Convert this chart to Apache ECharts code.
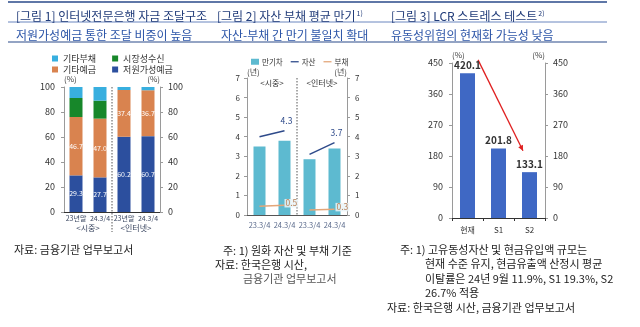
<!DOCTYPE html>
<html><head><meta charset="utf-8">
<script src="https://cdn.jsdelivr.net/npm/echarts@6/dist/echarts.min.js"></script>
<style>html,body{margin:0;padding:0;background:#fff}#c{width:640px;height:327px}</style>
</head><body><div id="c"></div>
<script>
// ---- Data ----
const cat1 = ['23년말', '24.3/4', '23년말', '24.3/4'];
const group1 = ['<시중>', '<인터넷>'];
const lowCost = [29.3, 27.7, 60.2, 60.7];
const otherDeposit = [46.7, 47.0, 37.4, 36.7];
const marketFund = [15.2, 14.4, 0, 0];
const otherLiab = [8.8, 10.9, 2.4, 2.6];
const ticks1 = [0, 20, 40, 60, 80, 100];

const cat2 = ['23.3/4', '24.3/4', '23.3/4', '24.3/4'];
const group2 = ['<시중>', '<인터넷>'];
const gap = [3.5, 3.8, 2.85, 3.4];
const assetBank = [4.0, 4.3, '-', '-'];
const assetNet = ['-', '-', 3.1, 3.7];
const liabBank = [0.45, 0.5, '-', '-'];
const liabNet = ['-', '-', 0.25, 0.3];
const ticks2 = [0, 1, 2, 3, 4, 5, 6, 7];

const cat3 = ['현재', 'S1', 'S2'];
const lcr = [420.1, 201.8, 133.1];
const ticks3 = [0, 90, 180, 270, 360, 450];
const arrowFrom = [0.34, 459];
const arrowTo = [1.79, 195];

const FONT = '"Noto Sans CJK KR", "Noto Sans", sans-serif';
const chart = echarts.init(document.getElementById('c'), null, {renderer: 'canvas'});

function yAx(grid, min, max, interval, pos, name, margin, fs, nameAlign, nameGap) {
  return {
    type: 'value', gridIndex: grid, position: pos, min: min, max: max, interval: interval,
    name: name, nameLocation: 'end', nameGap: nameGap,
    nameTextStyle: {fontSize: 8, color: '#444', fontFamily: FONT, align: nameAlign},
    axisLine: {show: true, lineStyle: {color: '#9a9a9a'}},
    axisTick: {show: true, length: 3, lineStyle: {color: '#9a9a9a'}},
    axisLabel: {fontSize: fs, color: '#333', margin: margin, fontFamily: FONT},
    splitLine: {show: false}
  };
}

function lastLabel(color, pos, offset, bg) {
  return {
    show: true, position: pos, offset: offset, fontSize: 8.5, color: color, fontFamily: FONT,
    backgroundColor: bg || 'transparent', padding: bg ? [0, 1] : 0,
    formatter: p => (p.dataIndex === 1 || p.dataIndex === 3) ? String(p.value) : ''
  };
}
const titleRich = {
  m: {fontSize: 12, fontWeight: 'normal', color: '#1f3a78', fontFamily: FONT},
  s: {fontSize: 7, fontWeight: 'normal', color: '#1f3a78', fontFamily: FONT, verticalAlign: 'top', padding: [0, 0, 6, 1]}
};

const option = {
  backgroundColor: '#fff',
  animation: false,
  textStyle: {fontFamily: FONT},
  title: [
    {text: '[그림 1] 인터넷전문은행 자금 조달구조', left: 11, top: 5, textStyle: {fontSize: 12, fontWeight: 'normal', color: '#1f3a78', fontFamily: FONT}},
    {text: '{m|[그림 2] 자산 부채 평균 만기}{s|1)}', left: 212, top: 5, textStyle: {fontWeight: 'normal', rich: titleRich}},
    {text: '{m|[그림 3] LCR 스트레스 테스트}{s|2)}', left: 386, top: 5, textStyle: {fontWeight: 'normal', rich: titleRich}},
    {text: '저원가성예금 통한 조달 비중이 높음', left: 11, top: 24, textStyle: {fontSize: 12, fontWeight: 'normal', color: '#2c55a8', fontFamily: FONT}},
    {text: '자산-부채 간 만기 불일치 확대', left: 216, top: 24, textStyle: {fontSize: 12, fontWeight: 'normal', color: '#2c55a8', fontFamily: FONT}},
    {text: '유동성위험의 현재화 가능성 낮음', left: 386, top: 24, textStyle: {fontSize: 12, fontWeight: 'normal', color: '#2c55a8', fontFamily: FONT}}
  ],
  legend: [
    {data: ['기타부채', '시장성수신'], left: 47, top: 49, icon: 'rect', itemWidth: 6, itemHeight: 6, itemGap: 16, textStyle: {fontSize: 9, color: '#333', fontFamily: FONT}},
    {data: ['기타예금', '저원가성예금'], left: 47, top: 60, icon: 'rect', itemWidth: 6, itemHeight: 6, itemGap: 16, textStyle: {fontSize: 9, color: '#333', fontFamily: FONT}},
    {data: [{name: '만기차', icon: 'rect'}, {name: '자산', icon: 'path://M0,0 H10 V1.6 H0 Z'}, {name: '부채', icon: 'path://M0,0 H10 V1.6 H0 Z'}],
     left: 246, top: 53, itemWidth: 8, itemHeight: 6, itemGap: 8, textStyle: {fontSize: 7.5, color: '#333', fontFamily: FONT, padding: [0, 0, 0, -2]}}
  ],
  grid: [
    {left: 64, top: 87, width: 96, height: 125},
    {left: 247, top: 78, width: 100, height: 137},
    {left: 452, top: 63, width: 93, height: 155}
  ],
  xAxis: [
    {type: 'category', gridIndex: 0, data: cat1, axisLine: {lineStyle: {color: '#333'}}, axisTick: {show: false},
     axisLabel: {fontSize: 7, color: '#3a4660', margin: 3, interval: 0, fontFamily: FONT}},
    {type: 'category', gridIndex: 1, data: cat2, axisLine: {lineStyle: {color: '#555'}}, axisTick: {show: false},
     axisLabel: {fontSize: 7.5, color: '#5b6b8c', margin: 6, interval: 0, fontFamily: FONT}},
    {type: 'category', gridIndex: 2, data: cat3, axisLine: {lineStyle: {color: '#333'}}, axisTick: {show: true, length: 3, lineStyle: {color: '#333'}},
     axisLabel: {fontSize: 8, color: '#333', margin: 8, interval: 0, fontFamily: FONT}}
  ],
  yAxis: [
    yAx(0, 0, 100, 20, 'left', '(%)', 9, 9, 'left', 4),
    yAx(0, 0, 100, 20, 'right', '(%)', 8, 9, 'right', 4),
    yAx(1, 0, 7, 1, 'left', '(년)', 7, 8, 'left', 2),
    yAx(1, 0, 7, 1, 'right', '(년)', 8, 8, 'right', 2),
    yAx(2, 0, 450, 90, 'left', '(%)', 9, 9, 'left', 4),
    yAx(2, 0, 450, 90, 'right', '(%)', 8, 9, 'right', 4)
  ],
  series: [
    {name: '저원가성예금', type: 'bar', stack: 's1', xAxisIndex: 0, yAxisIndex: 0, data: lowCost, barWidth: 13,
     itemStyle: {color: '#2c4f9e'}, label: {show: true, position: 'inside', fontSize: 7, color: '#fff', fontFamily: FONT}},
    {name: '기타예금', type: 'bar', stack: 's1', xAxisIndex: 0, yAxisIndex: 0, data: otherDeposit, barWidth: 13,
     itemStyle: {color: '#d9834f'}, label: {show: true, position: 'inside', fontSize: 7, color: '#fff', fontFamily: FONT, formatter: p => p.value.toFixed(1)}},
    {name: '시장성수신', type: 'bar', stack: 's1', xAxisIndex: 0, yAxisIndex: 0, data: marketFund, barWidth: 13,
     itemStyle: {color: '#17872a'}},
    {name: '기타부채', type: 'bar', stack: 's1', xAxisIndex: 0, yAxisIndex: 0, data: otherLiab, barWidth: 13,
     itemStyle: {color: '#38afdf'}},

    {name: '만기차', type: 'bar', xAxisIndex: 1, yAxisIndex: 2, data: gap, barWidth: 12, itemStyle: {color: '#5dbad0'}},
    {name: '자산', type: 'line', xAxisIndex: 1, yAxisIndex: 2, data: assetBank, symbol: 'circle', symbolSize: 0, lineStyle: {color: '#2e4a8a', width: 1.5}, itemStyle: {color: '#2e4a8a'},
     label: lastLabel('#2e4a8a', 'top', [2, -1])},
    {name: '자산', type: 'line', xAxisIndex: 1, yAxisIndex: 2, data: assetNet, symbol: 'circle', symbolSize: 0, lineStyle: {color: '#2e4a8a', width: 1.5}, itemStyle: {color: '#2e4a8a'},
     label: lastLabel('#2e4a8a', 'top', [2, -1])},
    {name: '부채', type: 'line', xAxisIndex: 1, yAxisIndex: 2, data: liabBank, symbol: 'circle', symbolSize: 0, z: 5, lineStyle: {color: '#e3a679', width: 1.5}, itemStyle: {color: '#e3a679'},
     label: lastLabel('#b9835a', 'right', [-5, -2], 'rgba(235,245,248,0.85)')},
    {name: '부채', type: 'line', xAxisIndex: 1, yAxisIndex: 2, data: liabNet, symbol: 'circle', symbolSize: 0, z: 5, lineStyle: {color: '#e3a679', width: 1.5}, itemStyle: {color: '#e3a679'},
     label: lastLabel('#b9835a', 'right', [-4, -2], 'rgba(235,245,248,0.85)')},

    {name: 'LCR', type: 'bar', xAxisIndex: 2, yAxisIndex: 4, data: lcr, barWidth: 15, itemStyle: {color: '#3f68c4'},
     label: {show: true, position: 'top', distance: 3, fontSize: 10, fontWeight: 'bold', color: '#333', fontFamily: FONT}}
  ]
};
chart.setOption(option);

// ---- annotations positioned through the axes ----
function px(xi, yi, c, v) { return chart.convertToPixel({xAxisIndex: xi, yAxisIndex: yi}, [c, v]); }
function fracX(xi, yi, f, v) {
  const i = Math.floor(f), a = px(xi, yi, i, v), b = px(xi, yi, i + 1, v);
  return [a[0] + (b[0] - a[0]) * (f - i), a[1]];
}
const g = [];
// header rules
g.push({type: 'line', shape: {x1: 8, y1: 2, x2: 607, y2: 2}, style: {stroke: '#2a4a8a', lineWidth: 1.5}});
g.push({type: 'line', shape: {x1: 8, y1: 22, x2: 607, y2: 22}, style: {stroke: '#6a86bf', lineWidth: 1}});
g.push({type: 'line', shape: {x1: 8, y1: 42, x2: 607, y2: 42}, style: {stroke: '#2a4a8a', lineWidth: 1.2}});

// panel 1 separator and group labels
{
  const a = px(0, 0, 1, 100), b = px(0, 0, 2, 0);
  const sx = (a[0] + b[0]) / 2;
  g.push({type: 'line', shape: {x1: sx, y1: a[1], x2: sx, y2: b[1] + 20}, style: {stroke: '#555', lineWidth: 1, lineDash: [1.5, 1.5]}});
  const c0 = (px(0, 0, 0, 0)[0] + px(0, 0, 1, 0)[0]) / 2, c1 = (px(0, 0, 2, 0)[0] + px(0, 0, 3, 0)[0]) / 2;
  g.push({type: 'text', x: c0, y: b[1] + 16, style: {text: group1[0], fontSize: 8, fill: '#3a4660', textAlign: 'center', textVerticalAlign: 'middle', fontFamily: FONT}});
  g.push({type: 'text', x: c1, y: b[1] + 16, style: {text: group1[1], fontSize: 8, fill: '#3a4660', textAlign: 'center', textVerticalAlign: 'middle', fontFamily: FONT}});
}
// panel 2 separator and group labels
{
  const a = px(1, 2, 1, 7), b = px(1, 2, 2, 0);
  const sx = (a[0] + b[0]) / 2;
  g.push({type: 'line', shape: {x1: sx, y1: a[1], x2: sx, y2: b[1]}, style: {stroke: '#555', lineWidth: 1, lineDash: [1.5, 1.5]}});
  const c0 = (px(1, 2, 0, 0)[0] + px(1, 2, 1, 0)[0]) / 2, c1 = (px(1, 2, 2, 0)[0] + px(1, 2, 3, 0)[0]) / 2;
  g.push({type: 'text', x: c0, y: a[1] + 5, style: {text: group2[0], fontSize: 8, fill: '#333', textAlign: 'center', textVerticalAlign: 'middle', fontFamily: FONT}});
  g.push({type: 'text', x: c1, y: a[1] + 5, style: {text: group2[1], fontSize: 8, fill: '#333', textAlign: 'center', textVerticalAlign: 'middle', fontFamily: FONT}});
}
// panel 3 arrow
{
  const s = fracX(2, 4, arrowFrom[0], arrowFrom[1]);
  const e = fracX(2, 4, arrowTo[0], arrowTo[1]);
  g.push({type: 'line', shape: {x1: s[0], y1: s[1], x2: e[0], y2: e[1]}, style: {stroke: '#e02020', lineWidth: 1.3}});
  const ang = Math.atan2(e[1] - s[1], e[0] - s[0]), L = 6, W = 0.45;
  g.push({type: 'polygon', shape: {points: [[e[0], e[1]],
    [e[0] - L * Math.cos(ang - W), e[1] - L * Math.sin(ang - W)],
    [e[0] - L * Math.cos(ang + W), e[1] - L * Math.sin(ang + W)]]}, style: {fill: '#e02020'}});
}
// notes
const noteStyle = (t, x, y, col) => ({type: 'text', x: x, y: y, style: {text: t, fontSize: 11, fill: col || '#222', textVerticalAlign: 'middle', fontFamily: FONT}});
g.push(noteStyle('자료: 금융기관 업무보고서', 14, 250));
g.push(noteStyle('주: 1) 원화 자산 및 부채 기준', 223, 251));
g.push(noteStyle('자료: 한국은행 시산,', 215, 265));
g.push(noteStyle('금융기관 업무보고서', 243, 279, '#555'));
g.push(noteStyle('주: 1) 고유동성자산 및 현금유입액 규모는', 400, 250));
g.push(noteStyle('현재 수준 유지, 현금유출액 산정시 평균', 425, 264));
g.push(noteStyle('이탈률은 24년 9월 11.9%, S1 19.3%, S2', 425, 279));
g.push(noteStyle('26.7% 적용', 425, 293));
g.push(noteStyle('자료: 한국은행 시산, 금융기관 업무보고서', 387, 308));
chart.setOption({graphic: g});
</script></body></html>
